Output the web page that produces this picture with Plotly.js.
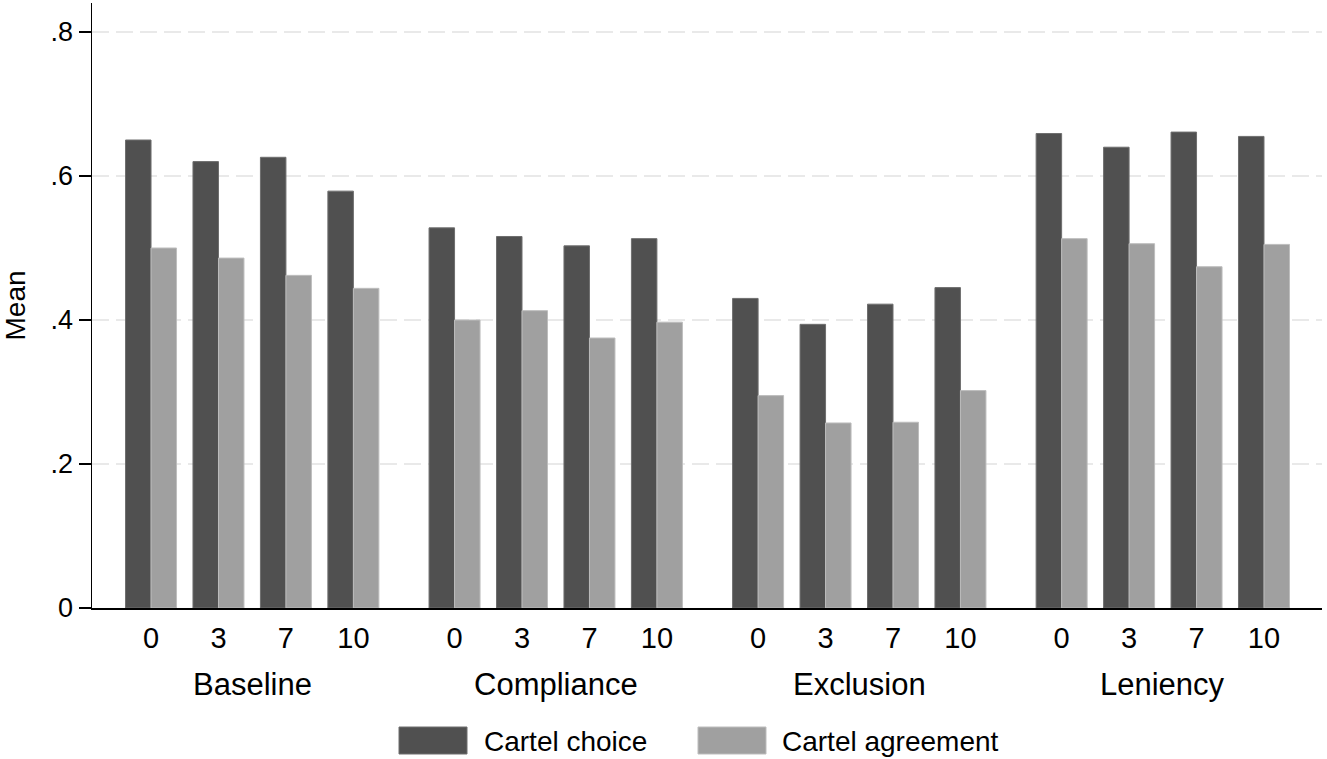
<!DOCTYPE html>
<html>
<head>
<meta charset="utf-8">
<script src="https://cdn.plot.ly/plotly-3.0.1.min.js"></script>
<style>
  html, body { margin: 0; padding: 0; background: #ffffff; }
  #chart { width: 1327px; height: 759px; }
</style>
</head>
<body>
<div id="chart"></div>
<script>
// ---- data ----
var groups = ['Baseline', 'Compliance', 'Exclusion', 'Leniency'];
var doses = ['0', '3', '7', '10'];
var seriesNames = ['Cartel choice', 'Cartel agreement'];
var cartelChoice = [
  0.650, 0.620, 0.626, 0.579,
  0.528, 0.516, 0.503, 0.513,
  0.430, 0.394, 0.422, 0.445,
  0.659, 0.640, 0.661, 0.655
];
var cartelAgreement = [
  0.500, 0.486, 0.462, 0.444,
  0.400, 0.413, 0.375, 0.397,
  0.295, 0.257, 0.258, 0.302,
  0.513, 0.506, 0.474, 0.505
];
var yTickVals = [0, 0.2, 0.4, 0.6, 0.8];
var yTickText = ['0', '.2', '.4', '.6', '.8'];

// ---- layout helpers ----
var groupStride = 4.5;      // distance between groups, in pair units
var barW = 0.378;
var xs = [], tickText = [];
groups.forEach(function (g, gi) {
  doses.forEach(function (d, di) {
    xs.push(gi * groupStride + di);
    tickText.push(d);
  });
});

var darkColor = '#505050';
var lightColor = '#a0a0a0';
var FONT = 'Liberation Sans, Arial, Helvetica, sans-serif';

var traces = [
  {
    type: 'bar', name: seriesNames[0], x: xs, y: cartelChoice,
    width: barW, offset: -barW,
    marker: { color: darkColor, line: { color: '#6e6e6e', width: 1 } },
    hoverinfo: 'y'
  },
  {
    type: 'bar', name: seriesNames[1], x: xs, y: cartelAgreement,
    width: barW, offset: 0,
    marker: { color: lightColor, line: { color: '#bdbdbd', width: 1 } },
    hoverinfo: 'y'
  }
];

// plot area in pixels (for legend placement)
var L = 92, R = 5, T = 3, B = 151, W = 1327, H = 759;
var pw = W - L - R, ph = H - T - B;
function px2x(px) { return (px - L) / pw; }
function py2y(py) { return (H - B - py) / ph; }

var annotations = groups.map(function (g, gi) {
  return {
    text: g, x: gi * groupStride + 1.5, xref: 'x',
    y: py2y(684), yref: 'paper', xanchor: 'center', yanchor: 'middle',
    showarrow: false, font: { family: FONT, size: 31, color: '#000' }
  };
});

var legendItems = [
  { name: seriesNames[0], color: darkColor, line: '#6e6e6e', x0: 399, x1: 467, tx: 482 },
  { name: seriesNames[1], color: lightColor, line: '#bdbdbd', x0: 698, x1: 766, tx: 780 }
];
var shapes = [];
legendItems.forEach(function (it) {
  shapes.push({
    type: 'rect', xref: 'paper', yref: 'paper',
    x0: px2x(it.x0), x1: px2x(it.x1), y0: py2y(754), y1: py2y(727),
    fillcolor: it.color, line: { color: it.line, width: 1 }
  });
  annotations.push({
    text: it.name, x: px2x(it.tx), xref: 'paper', y: py2y(741), yref: 'paper',
    xanchor: 'left', yanchor: 'middle', showarrow: false,
    font: { family: FONT, size: 28, color: '#000' }
  });
});

var layout = {
  width: W, height: H,
  margin: { l: L, r: R, t: T, b: B, pad: 0 },
  paper_bgcolor: '#ffffff', plot_bgcolor: '#ffffff',
  barmode: 'overlay',
  showlegend: false,
  font: { family: FONT, color: '#000' },
  xaxis: {
    range: [-0.875, 17.36],
    tickmode: 'array', tickvals: xs, ticktext: tickText,
    ticks: 'outside', ticklen: 4, tickcolor: 'rgba(0,0,0,0)',
    tickfont: { family: FONT, size: 29, color: '#000' },
    showgrid: false, zeroline: false,
    showline: true, linecolor: '#000', linewidth: 1.5
  },
  yaxis: {
    range: [0, 0.8403],
    tickmode: 'array', tickvals: yTickVals, ticktext: yTickText,
    ticks: 'outside', ticklen: 12, tickwidth: 1.5, tickcolor: '#000',
    tickfont: { family: FONT, size: 27, color: '#000' },
    showgrid: true, gridcolor: '#e9e9e9', gridwidth: 2, griddash: '17px,7px',
    zeroline: false,
    showline: true, linecolor: '#000', linewidth: 1.5,
    title: { text: 'Mean', font: { family: FONT, size: 28, color: '#000' }, standoff: 19 }
  },
  annotations: annotations,
  shapes: shapes
};

Plotly.newPlot('chart', traces, layout, { displayModeBar: false, staticPlot: true });
</script>
</body>
</html>
